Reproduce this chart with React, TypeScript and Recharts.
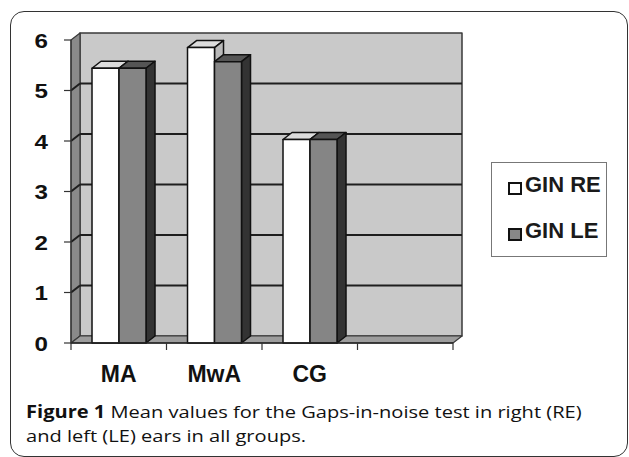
import React from 'react';
import { BarChart, Bar, XAxis, YAxis, Legend, ReferenceArea, ReferenceLine } from 'recharts';

const groups = ['MA', 'MwA', 'CG', ''];
const ginRE = [5.44, 5.85, 4.03, null];
const ginLE = [5.44, 5.57, 4.03, null];
const yTicks = [0, 1, 2, 3, 4, 5, 6];
const seriesNames = ['GIN RE', 'GIN LE'];

const data = groups.map((g, i) => ({ group: g, re: ginRE[i], le: ginLE[i] }));

// depth of the fake 3d look
const DX = 9;
const DY = 7;
const TICK = 7;
const XMARGIN = 16;
const FONT = "'Liberation Sans', Arial, sans-serif";

const Wall = (props: any) => {
  const { x, y, width, height } = props;
  const b = y + height;
  const r = x + width;
  return (
    <g strokeLinejoin="round">
      <polygon
        points={`${x + DX},${y - DY} ${r + DX},${y - DY} ${r + DX},${b - DY} ${x + DX},${b - DY}`}
        fill="#c9c9c9"
        stroke="#3a3a3a"
        strokeWidth={1.5}
      />
      <polygon
        points={`${x},${y} ${x + DX},${y - DY} ${x + DX},${b - DY} ${x},${b}`}
        fill="#8a8a8a"
        stroke="#3a3a3a"
        strokeWidth={1.2}
      />
      <polygon
        points={`${x},${b} ${x + DX},${b - DY} ${r + DX},${b - DY} ${r},${b}`}
        fill="#9d9d9d"
        stroke="#3a3a3a"
        strokeWidth={1.2}
      />
    </g>
  );
};

const GridLine = (props: any) => {
  const { x1, y1, x2 } = props;
  if (x1 == null || y1 == null) return null;
  return (
    <g stroke="#1e1e1e" strokeWidth={2}>
      <line x1={x1} y1={y1} x2={x1 + DX} y2={y1 - DY} />
      <line x1={x1 + DX} y1={y1 - DY} x2={x2 + DX} y2={y1 - DY} />
    </g>
  );
};

const Box3D = (props: any) => {
  const { x, y, width, height, front, top, side } = props;
  if (!height || height <= 0) return null;
  const r = x + width;
  const b = y + height;
  return (
    <g stroke="#111" strokeWidth={1.5} strokeLinejoin="round">
      <polygon points={`${x},${y} ${x + DX},${y - DY} ${r + DX},${y - DY} ${r},${y}`} fill={top} />
      <polygon points={`${r},${y} ${r + DX},${y - DY} ${r + DX},${b - DY} ${r},${b}`} fill={side} />
      <rect x={x} y={y} width={width} height={height} fill={front} />
    </g>
  );
};

const XTick = (props: any) => {
  const { x, y, payload, index, visibleTicksCount } = props;
  const off = payload && payload.offset ? payload.offset : 0;
  const axisY = y - TICK - XMARGIN;
  return (
    <g>
      {off > 0 && <line x1={x - off} y1={axisY} x2={x - off} y2={axisY + TICK} stroke="#333" strokeWidth={1.2} />}
      {off > 0 && index === visibleTicksCount - 1 && (
        <line x1={x + off} y1={axisY} x2={x + off} y2={axisY + TICK} stroke="#333" strokeWidth={1.2} />
      )}
      <text x={x} y={y} dy="0.71em" textAnchor="middle" fill="#111" fontSize={23} fontWeight="bold" fontFamily={FONT}>
        {payload.value}
      </text>
    </g>
  );
};

const YTick = (props: any) => {
  const { x, y, payload } = props;
  return (
    <text
      transform={`translate(${x},${y}) scale(1.15,1)`}
      dy="0.36em"
      textAnchor="end"
      fill="#111"
      fontSize={21}
      fontWeight="bold"
      fontFamily={FONT}
    >
      {payload.value}
    </text>
  );
};

const LegendBox = (props: any) => {
  const items = [...(props.payload || [])].sort(
    (a: any, b: any) => seriesNames.indexOf(a.value) - seriesNames.indexOf(b.value)
  );
  return (
    <div
      style={{
        border: '1px solid #777',
        background: '#fff',
        width: 116,
        height: 95,
        boxSizing: 'border-box',
        paddingTop: 9,
        paddingLeft: 16,
        fontFamily: FONT,
      }}
    >
      {items.map((it: any) => (
        <div key={it.value} style={{ display: 'flex', alignItems: 'flex-start', height: 46 }}>
          <span
            style={{
              display: 'inline-block',
              width: 14,
              height: 13,
              marginTop: 10,
              border: '2px solid #111',
              boxSizing: 'border-box',
              background: it.color,
              marginRight: 3,
            }}
          />
          <span style={{ fontSize: 22, lineHeight: '26px', fontWeight: 'bold', color: '#1a1a1a' }}>{it.value}</span>
        </div>
      ))}
    </div>
  );
};

export default function App() {
  return (
    <div style={{ position: 'absolute', left: 0, top: 0, width: 629, height: 457, background: '#fff' }}>
      <div
        style={{
          position: 'absolute',
          left: 10,
          top: 11,
          width: 618,
          height: 446,
          border: '1.5px solid #333',
          borderRadius: 14,
          boxSizing: 'border-box',
        }}
      />
      <div style={{ position: 'absolute', left: 0, top: 0 }}>
        <BarChart
          width={629}
          height={400}
          data={data}
          margin={{ top: 40, right: 176, bottom: 0, left: 0 }}
          barCategoryGap="22%"
          barGap={0}
        >
          <ReferenceArea y1={0} y2={6} shape={<Wall />} ifOverflow="visible" zIndex={-80} />
          {yTicks.slice(1, -1).map((t) => (
            <ReferenceLine key={t} y={t} shape={<GridLine />} zIndex={-60} />
          ))}
          <XAxis
            dataKey="group"
            height={57}
            tickSize={TICK}
            tickMargin={XMARGIN}
            tickLine={false}
            axisLine={{ stroke: '#222', strokeWidth: 1.5 }}
            tick={<XTick />}
            interval={0}
          />
          <YAxis
            width={71}
            domain={[0, 6]}
            ticks={yTicks}
            tickSize={TICK}
            tickMargin={16}
            axisLine={{ stroke: '#333', strokeWidth: 1.2 }}
            tickLine={{ stroke: '#333', strokeWidth: 1.2 }}
            tick={<YTick />}
          />
          <Legend
            layout="vertical"
            align="center"
            verticalAlign="middle"
            content={<LegendBox />}
            wrapperStyle={{ left: 491, top: 162, width: 116, height: 95 }}
          />
          <Bar
            dataKey="re"
            name="GIN RE"
            fill="#ffffff"
            isAnimationActive={false}
            shape={(p: any) => <Box3D {...p} front="#ffffff" top="#dcdcdc" side="#b9b9b9" />}
          />
          <Bar
            dataKey="le"
            name="GIN LE"
            fill="#888888"
            isAnimationActive={false}
            shape={(p: any) => <Box3D {...p} front="#858585" top="#555555" side="#333333" />}
          />
        </BarChart>
      </div>
      <div
        style={{
          position: 'absolute',
          left: 26,
          top: 400,
          fontFamily: "'Open Sans', 'Noto Sans', sans-serif",
          fontSize: 17,
          lineHeight: '24px',
          color: '#111',
          whiteSpace: 'nowrap',
          transform: 'scaleX(1.18)',
          transformOrigin: 'left top',
        }}
      >
        <div>
          <b>Figure 1</b> Mean values for the Gaps-in-noise test in right (RE)
        </div>
        <div>and left (LE) ears in all groups.</div>
      </div>
    </div>
  );
}
